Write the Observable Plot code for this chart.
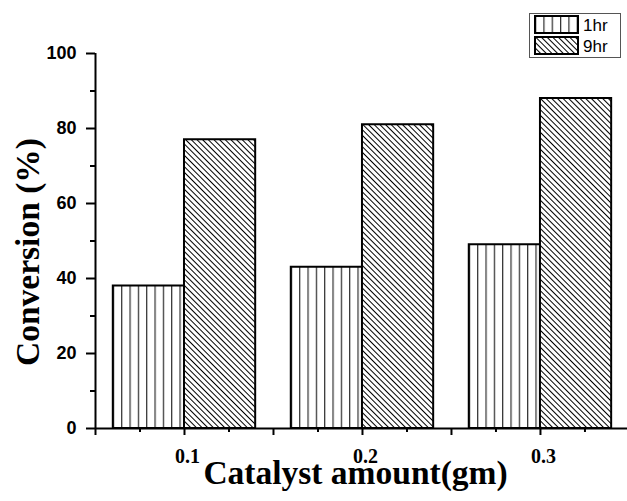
<!DOCTYPE html>
<html><head><meta charset="utf-8">
<script src="https://cdn.jsdelivr.net/npm/d3@7"></script>
<script src="https://cdn.jsdelivr.net/npm/@observablehq/plot@0.6"></script>
<style>body{margin:0;background:#fff}</style>
</head><body><div id="chart"></div>
<script>
const categories = [0.1, 0.2, 0.3];
const seriesNames = ["1hr", "9hr"];
const conversion1hr = [38, 43, 49];
const conversion9hr = [77, 81, 88];
const xTickLabels = [0.1, 0.2, 0.3];
const yTickValues = [0, 20, 40, 60, 80, 100];
const yMinorTicks = [10, 30, 50, 70, 90];
const xMajorTicks = [0.05, 0.1, 0.15, 0.2, 0.25, 0.3];
const xMinorTicks = [0.075, 0.125, 0.175, 0.225, 0.275, 0.325];
const xTitle = "Catalyst amount(gm)";
const yTitle = "Conversion (%)";

const BW = 0.04;
const rows = [];
categories.forEach((c, i) => {
  rows.push({cat: c, series: seriesNames[0], value: conversion1hr[i]});
  rows.push({cat: c, series: seriesNames[1], value: conversion9hr[i]});
});
const SANS = "Liberation Sans, Arial, sans-serif";
const SERIF = "Liberation Serif, Times New Roman, serif";

const chart = Plot.plot({
  width: 627, height: 501,
  marginLeft: 95, marginRight: 0, marginTop: 53, marginBottom: 73,
  style: {background: "white", color: "black"},
  x: {domain: [0.05, 0.3489], label: null},
  y: {domain: [0, 100], label: null},
  marks: [
    Plot.rect(rows.filter(d => d.series === "1hr"), {
      x1: d => d.cat - BW, x2: d => d.cat, y1: 0, y2: "value",
      fill: "url(#pv)", stroke: "black", strokeWidth: 2
    }),
    Plot.rect(rows.filter(d => d.series === "9hr"), {
      x1: d => d.cat, x2: d => d.cat + BW, y1: 0, y2: "value",
      fill: "url(#pd)", stroke: "black", strokeWidth: 2
    }),
    Plot.ruleY([0], {strokeWidth: 2}),
    Plot.ruleX([0.05], {strokeWidth: 2}),
    Plot.axisY({ticks: yTickValues, tickSize: 9, tickPadding: 10, fontSize: 18, fontWeight: "bold", fontFamily: SANS, strokeWidth: 2, label: null}),
    Plot.axisY({ticks: yMinorTicks, tickSize: 5, tickFormat: () => "", strokeWidth: 2, label: null}),
    Plot.axisX({ticks: xMajorTicks, tickSize: 7, tickFormat: () => "", strokeWidth: 2, label: null}),
    Plot.axisX({ticks: xMinorTicks, tickSize: 4, tickFormat: () => "", strokeWidth: 2, label: null}),
    Plot.axisX({ticks: xTickLabels, tickSize: 0, tickPadding: 20, dx: 3, tickFormat: d => String(d), fontSize: 20, fontWeight: "bold", fontFamily: SERIF, label: null}),
    Plot.text([xTitle], {frameAnchor: "bottom", lineAnchor: "bottom", dy: 55, dx: -6, fontSize: 33.5, fontWeight: "bold", fontFamily: SERIF}),
    Plot.text([yTitle], {frameAnchor: "left", textAnchor: "middle", lineAnchor: "bottom", rotate: -90, dx: -57, dy: 11, fontSize: 33.5, fontWeight: "bold", fontFamily: SERIF})
  ]
});
document.getElementById("chart").appendChild(chart);

// hatch patterns
const svg = d3.select(chart);
const defs = svg.insert("defs", ":first-child");
function vPattern(id, w) {
  const p = defs.append("pattern").attr("id", id)
    .attr("patternUnits", "objectBoundingBox")
    .attr("x", 0).attr("y", 0).attr("width", 8.33 / w).attr("height", 1);
  p.append("rect").attr("width", 8.33).attr("height", 1000).attr("fill", "white");
  p.append("line").attr("x1", 0.67).attr("x2", 0.67).attr("y1", 0).attr("y2", 1000)
    .attr("stroke", "black").attr("stroke-width", 1);
}
function dPattern(id) {
  const p = defs.append("pattern").attr("id", id)
    .attr("patternUnits", "userSpaceOnUse")
    .attr("width", 4).attr("height", 10)
    .attr("patternTransform", "rotate(-45)");
  p.append("rect").attr("width", 4).attr("height", 10).attr("fill", "white");
  p.append("line").attr("x1", 0.5).attr("x2", 0.5).attr("y1", 0).attr("y2", 10)
    .attr("stroke", "black").attr("stroke-width", 1);
}
vPattern("pv", 71.2);
vPattern("pvl", 43);
dPattern("pd");

// legend
const lg = svg.append("g");
lg.append("rect").attr("x", 529.5).attr("y", 13.5).attr("width", 91).attr("height", 44)
  .attr("fill", "white").attr("stroke", "#555").attr("stroke-width", 1);
const rowsY = [16, 37];
seriesNames.forEach((s, i) => {
  lg.append("rect").attr("x", 535).attr("y", rowsY[i]).attr("width", 43).attr("height", 17)
    .attr("fill", i === 0 ? "url(#pvl)" : "url(#pd)").attr("stroke", "black").attr("stroke-width", 2);
  lg.append("text").attr("x", 583).attr("y", rowsY[i] + 8.5).attr("dy", "0.36em")
    .attr("text-anchor", "start")
    .attr("font-family", SANS).attr("font-size", 17).text(s);
});
</script>
</body></html>
